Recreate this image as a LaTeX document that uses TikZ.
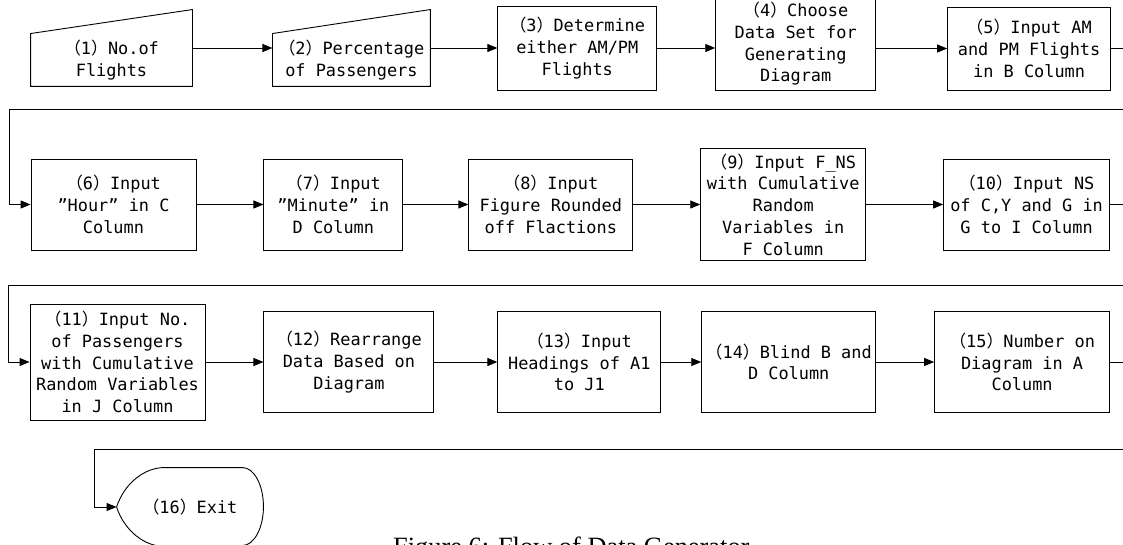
\documentclass[tikz,border=0pt]{standalone}
\usepackage{fontspec}
\newfontfamily\boxfont{DejaVu Sans Mono}
\newfontfamily\cjk{Noto Sans CJK SC}
\newfontfamily\capfont{Liberation Serif}
\usetikzlibrary{arrows.meta,positioning,calc}
\tikzset{
  stepbox/.style ={draw,align=center,inner sep=2pt,line width=0.9pt,
                   font=\boxfont\fontsize{16.9}{21.7}\selectfont},
  slantbox/.style={stepbox,draw=none},
  exitbox/.style ={stepbox,draw=none,minimum width=146pt,minimum height=78pt},
  sz/.style 2 args={minimum width=#1pt,minimum height=#2pt},
  outl/.style    ={line width=0.9pt},
  ar/.style      ={-{Triangle[length=10pt,width=8pt]},line width=0.9pt},
  capt/.style    ={font=\capfont\fontsize{26.4}{30}\selectfont,inner sep=0pt},
}
\newcommand{\nr}[1]{{\cjk （}#1{\cjk ）}}

\begin{document}
\begin{tikzpicture}[x=1pt,y=-1pt]
\useasboundingbox (0,0) rectangle (1123,545);
\clip (0,0) rectangle (1123,545);
% row 1
\node[slantbox,sz={161}{52}] (t1) at (111.5,60) {\nr{1}No.of\\Flights};
\node[slantbox,sz={157}{52},right=80pt of t1] (t2) {\nr{2}Percentage\\of Passengers};
\node[stepbox,sz={159}{84},right=67pt of t2,yshift=12pt] (t3) {\nr{3}Determine\\either AM/PM\\Flights};
\node[stepbox,sz={160}{92},right=58pt of t3,yshift=4pt] (t4) {\nr{4}Choose\\Data Set for\\Generating\\Diagram};
\node[stepbox,sz={163}{83},right=71pt of t4,yshift=-4.5pt] (t5) {\nr{5}Input AM\\and PM Flights\\in B Column};
\foreach \n in {t1,t2}
  \draw[outl] (\n.south west) -- (\n.south east) -- ($(\n.north east)+(0,-24)$) -- (\n.north west) -- cycle;
% row 2
\node[stepbox,sz={165}{91}] (t6) at (113.5,204.5) {\nr{6}Input\\”Hour” in C\\Column};
\node[stepbox,sz={139}{91},right=67pt of t6] (t7) {\nr{7}Input\\”Minute” in\\D Column};
\node[stepbox,sz={164}{91},right=65pt of t7] (t8) {\nr{8}Input\\Figure Rounded\\off Flactions};
\node[stepbox,sz={165}{112},right=67pt of t8] (t9) {\nr{9}Input F\_NS\\with Cumulative\\Random\\Variables in\\F Column};
\node[stepbox,sz={166}{91},right=77pt of t9] (t10) {\nr{10}Input NS\\of C,Y and G in\\G to I Column};
% row 3
\node[stepbox,sz={175}{116}] (t11) at (117.5,362) {\nr{11}Input No.\\of Passengers\\with Cumulative\\Random Variables\\in J Column};
\node[stepbox,sz={170}{101},right=58pt of t11] (t12) {\nr{12}Rearrange\\Data Based on\\Diagram};
\node[stepbox,sz={163}{101},right=63pt of t12] (t13) {\nr{13}Input\\Headings of A1\\to J1};
\node[stepbox,sz={174}{101},right=40pt of t13] (t14) {\nr{14}Blind B and\\D Column};
\node[stepbox,sz={175}{101},right=58pt of t14] (t15) {\nr{15}Number on\\Diagram in A\\Column};
% exit
\node[exitbox] (ex) at (190,507) {\nr{16}Exit};
\draw[outl] (ex.west) .. controls ($(ex.west)+(8,-24)$) and ($(ex.north west)+(28,0)$) .. ($(ex.north west)+(48,0)$)
  -- ($(ex.north east)+(-21,0)$) arc[start angle=90,end angle=-90,x radius=21pt,y radius=39pt]
  -- ($(ex.south west)+(48,0)$) .. controls ($(ex.south west)+(28,0)$) and ($(ex.west)+(8,24)$) .. (ex.west);
\node[capt,anchor=base west] (cap) at (393,555) {Figure 6: Flow of Data Generator};
% bends
\coordinate (k1) at (9,109);
\coordinate (k2) at (8,285);
\coordinate (k3) at (94,449);
% arrows
\draw[ar] ([yshift=12pt]t1.east) -- ([yshift=12pt]t2.west);
\draw[ar] (t2.east |- t3.west) -- (t3.west);
\draw[ar] (t3.east) -- (t3.east -| t4.west);
\draw[ar] (t4.east |- t5.west) -- (t5.west);
\foreach \a/\b in {t6/t7,t7/t8,t8/t9,t9/t10,t11/t12,t12/t13,t13/t14,t14/t15}
  \draw[ar] (\a) -- (\b);
\draw[ar] (t5.east) -- ++(30,0) |- (k1) |- (t6.west);
\draw[ar] (t10.east) -- ++(30,0) |- (k2) |- (t11.west);
\draw[ar] (t15.east) -- ++(30,0) |- (k3) |- (ex.west);
\end{tikzpicture}
\end{document}
